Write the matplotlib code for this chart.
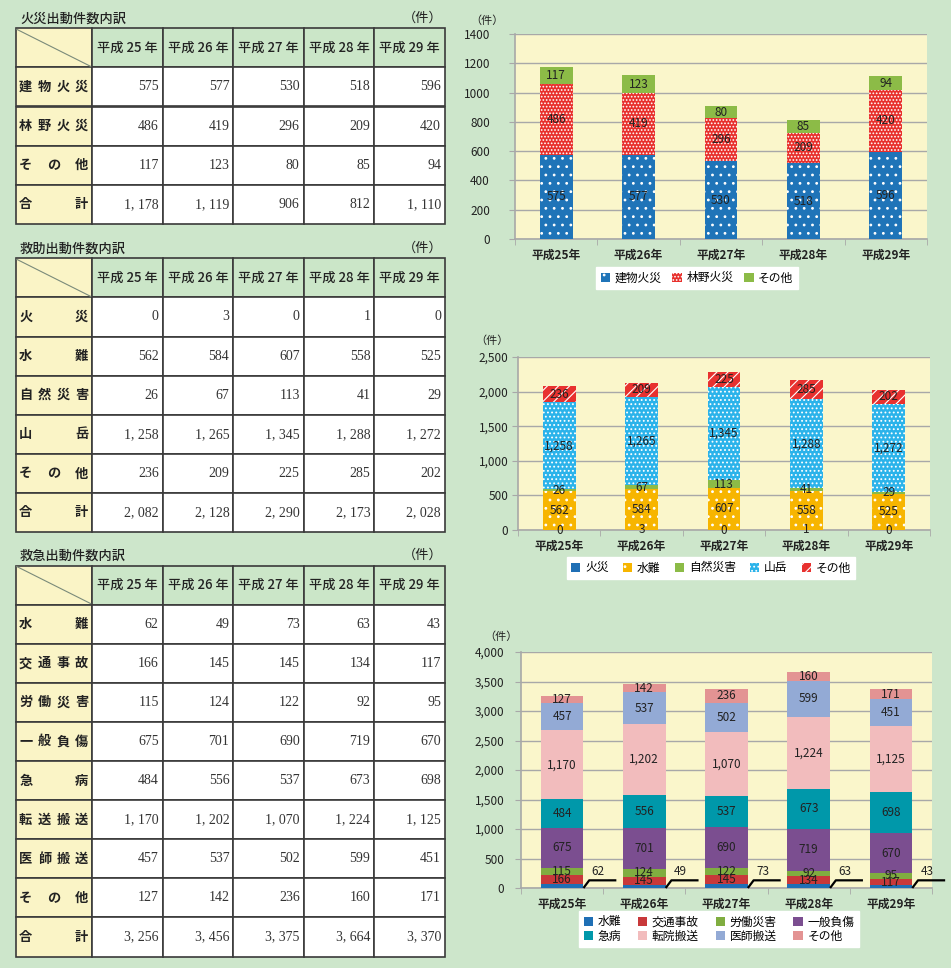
import numpy as np
import matplotlib.pyplot as plt
from matplotlib.patches import Rectangle

plt.rcParams['font.family'] = ['Noto Sans CJK JP', 'DejaVu Sans']
plt.rcParams['hatch.linewidth'] = 0.8

years = ['平成25年', '平成26年', '平成27年', '平成28年', '平成29年']
table_years = ['平成 25 年', '平成 26 年', '平成 27 年', '平成 28 年', '平成 29 年']

# 火災出動
fire_names = ['建物火災', '林野火災', 'その他']
fire_building = [575, 577, 530, 518, 596]
fire_forest = [486, 419, 296, 209, 420]
fire_other = [117, 123, 80, 85, 94]
fire_total = [1178, 1119, 906, 812, 1110]

# 救助出動
rescue_names = ['火災', '水難', '自然災害', '山岳', 'その他']
rescue_fire = [0, 3, 0, 1, 0]
rescue_water = [562, 584, 607, 558, 525]
rescue_nature = [26, 67, 113, 41, 29]
rescue_mountain = [1258, 1265, 1345, 1288, 1272]
rescue_other = [236, 209, 225, 285, 202]
rescue_total = [2082, 2128, 2290, 2173, 2028]

# 救急出動
ems_names = ['水難', '交通事故', '労働災害', '一般負傷', '急病', '転送搬送', '医師搬送', 'その他']
ems_legend = ['水難', '交通事故', '労働災害', '一般負傷', '急病', '転院搬送', '医師搬送', 'その他']
ems_water = [62, 49, 73, 63, 43]
ems_traffic = [166, 145, 145, 134, 117]
ems_work = [115, 124, 122, 92, 95]
ems_injury = [675, 701, 690, 719, 670]
ems_sick = [484, 556, 537, 673, 698]
ems_transfer = [1170, 1202, 1070, 1224, 1125]
ems_doctor = [457, 537, 502, 599, 451]
ems_other = [127, 142, 236, 160, 171]
ems_total = [3256, 3456, 3375, 3664, 3370]

BG = '#cde6cb'
PLOT_BG = '#faf6cb'
GRID = '#a8a8a8'

fig = plt.figure(figsize=(9.51, 9.68), dpi=100)
fig.patch.set_facecolor(BG)

# ---- tables (drawn in pixel coords) ----
tab = fig.add_axes([0, 0, 1, 1])
tab.set_xlim(0, 951)
tab.set_ylim(968, 0)
tab.axis('off')

col_x = [15.7, 91.7, 162.7, 233.3, 303.7, 374.3, 445]


def draw_table(top, title, names, rows, totals):
    row_h = 39.1
    tab.text(20, top - 10, title, fontsize=9.5, va='center', ha='left', color='#222222',
             fontweight='medium')
    tab.text(443, top - 10, '（件）', fontsize=9.5, va='center', ha='right', color='#222222')
    # header
    tab.add_patch(Rectangle((col_x[0], top), col_x[1] - col_x[0], row_h,
                            facecolor='#faf4c6', edgecolor='#3a3a3a', lw=1.2))
    tab.plot([col_x[0] + 1, col_x[1] - 1], [top + 1, top + row_h - 1], color='#7a8a7a', lw=0.8)
    for j in range(5):
        tab.add_patch(Rectangle((col_x[j + 1], top), col_x[j + 2] - col_x[j + 1], row_h,
                                facecolor='#cbe6c8', edgecolor='#3a3a3a', lw=1.2))
        tab.text((col_x[j + 1] + col_x[j + 2]) / 2, top + row_h / 2, table_years[j],
                 fontsize=9.5, ha='center', va='center', color='#222222', fontweight='medium')
    all_names = names + ['合計']
    all_rows = rows + [totals]
    for i, (nm, vals) in enumerate(zip(all_names, all_rows)):
        y0 = top + row_h * (i + 1)
        tab.add_patch(Rectangle((col_x[0], y0), col_x[1] - col_x[0], row_h,
                                facecolor='#faf4c6', edgecolor='#3a3a3a', lw=1.2))
        cx = np.linspace(col_x[0] + 10, col_x[1] - 10, len(nm))
        for ch, xx in zip(nm, cx):
            tab.text(xx, y0 + row_h / 2, ch, fontsize=9.5, ha='center', va='center',
                     color='#222222', fontweight='bold')
        for j, v in enumerate(vals):
            tab.add_patch(Rectangle((col_x[j + 1], y0), col_x[j + 2] - col_x[j + 1], row_h,
                                    facecolor='white', edgecolor='#3a3a3a', lw=1.2))
            tab.text(col_x[j + 2] - 4, y0 + row_h / 2, f'{v:,}'.replace(',', ', '),
                     fontsize=10, ha='right', va='center', color='#333333',
                     family=['Liberation Serif', 'DejaVu Serif'])


draw_table(28.3, '火災出動件数内訳', fire_names,
           [fire_building, fire_forest, fire_other], fire_total)
draw_table(258.3, '救助出動件数内訳', rescue_names,
           [rescue_fire, rescue_water, rescue_nature, rescue_mountain, rescue_other], rescue_total)
draw_table(565.5, '救急出動件数内訳', ems_names,
           [ems_water, ems_traffic, ems_work, ems_injury, ems_sick, ems_transfer, ems_doctor, ems_other],
           ems_total)


# ---- charts ----
def stacked(rect, series, colors, hatches, width, ymax, step, comma, ypad, skip_first=False):
    ax = fig.add_axes(rect)
    ax.set_facecolor(PLOT_BG)
    x = np.arange(len(years))
    bottom = np.zeros(len(years))
    handles = []
    for k, (vals, c, h) in enumerate(zip(series, colors, hatches)):
        b = ax.bar(x, vals, width, bottom=bottom, color=c,
                   edgecolor='white' if h else c, hatch=h, linewidth=0, zorder=3)
        handles.append(b)
        if not (skip_first and k == 0):
            ax.bar_label(b, labels=[f'{v:,}' for v in vals], label_type='center',
                         fontsize=8.5, color='#222222', zorder=5)
        bottom += np.array(vals)
    ax.set_xlim(-0.5, len(years) - 0.5)
    ax.set_ylim(0, ymax)
    ax.set_yticks(np.arange(0, ymax + 1, step))
    if comma:
        ax.set_yticklabels([f'{int(v):,}' for v in np.arange(0, ymax + 1, step)])
    ax.yaxis.grid(True, color=GRID, lw=1)
    ax.set_axisbelow(True)
    ax.set_xticks(x)
    ax.set_xticklabels(years, fontsize=8.5, fontweight='bold', color='#222222')
    ax.set_xticks(np.arange(-0.5, len(years)), minor=True)
    ax.tick_params(axis='x', which='major', length=0, pad=7)
    ax.tick_params(axis='x', which='minor', length=4, color=GRID, direction='out')
    ax.tick_params(axis='y', length=4, color=GRID, labelsize=8.5, labelcolor='#222222', pad=ypad)
    for s in ['top', 'right']:
        ax.spines[s].set_visible(False)
    for s in ['left', 'bottom']:
        ax.spines[s].set_color(GRID)
        ax.spines[s].set_linewidth(1.2)
    return ax, handles


def add_legend(handles, labels, center, ncol, colsp):
    leg = fig.legend(handles, labels, loc='center', bbox_to_anchor=center, ncol=ncol,
                     fontsize=8.5, frameon=True, fancybox=False, facecolor='white',
                     edgecolor='white', framealpha=1, handlelength=0.8, handleheight=0.8,
                     handletextpad=0.4, columnspacing=colsp, borderpad=0.35, labelspacing=0.1)
    return leg


# chart 1
ax1, h1 = stacked([515 / 951, 1 - 239 / 968, 412 / 951, 205 / 968],
                  [fire_building, fire_forest, fire_other],
                  ['#1f74b8', '#e8302c', '#8cbb47'], ['..', '.....', ''],
                  0.4, 1400, 200, False, 14)
fig.text(470 / 951, 1 - 21 / 968, '（件）', fontsize=8, va='center', ha='left', color='#222222')
add_legend(h1, fire_names, (697 / 951, 1 - 278 / 968), 3, 0.9)

# chart 2
ax2, h2 = stacked([518 / 951, 1 - 530 / 968, 412 / 951, 173 / 968],
                  [rescue_fire, rescue_water, rescue_nature, rescue_mountain, rescue_other],
                  ['#1f6fb5', '#f7b500', '#8cbb47', '#2bb3ea', '#e8312f'],
                  ['', '..', '', '....', '///'],
                  0.4, 2500, 500, True, 3)
fig.text(475 / 951, 1 - 341 / 968, '（件）', fontsize=8, va='center', ha='left', color='#222222')
add_legend(h2, rescue_names, (711 / 951, 1 - 568 / 968), 5, 1.2)

# chart 3
ax3, h3 = stacked([521 / 951, 1 - 888 / 968, 411 / 951, 236 / 968],
                  [ems_water, ems_traffic, ems_work, ems_injury, ems_sick, ems_transfer, ems_doctor, ems_other],
                  ['#1f6fb5', '#c8383a', '#80ad40', '#7b4e90', '#0098aa', '#f2bcbd', '#93aad5', '#e39393'],
                  [''] * 8, 0.52, 4000, 500, True, 8, skip_first=True)
fig.text(484 / 951, 1 - 637 / 968, '（件）', fontsize=8, va='center', ha='left', color='#222222')
# 水難 labels with leader lines
for i, v in enumerate(ems_water):
    edge = i + 0.26
    ax3.plot([edge, edge + 0.07, edge + 0.4], [0, 130, 130], color='black', lw=1.6,
             zorder=6, clip_on=False, solid_capstyle='butt')
    ax3.text(edge + 0.1, 170, f'{v}', fontsize=8.5, ha='left', va='bottom', color='#222222', zorder=6)
order = [0, 4, 1, 5, 2, 6, 3, 7]
add_legend([h3[k] for k in order], [ems_legend[k] for k in order], (719 / 951, 1 - 929 / 968), 4, 1.4)

fig.savefig('out.png', dpi=100, facecolor=BG)
